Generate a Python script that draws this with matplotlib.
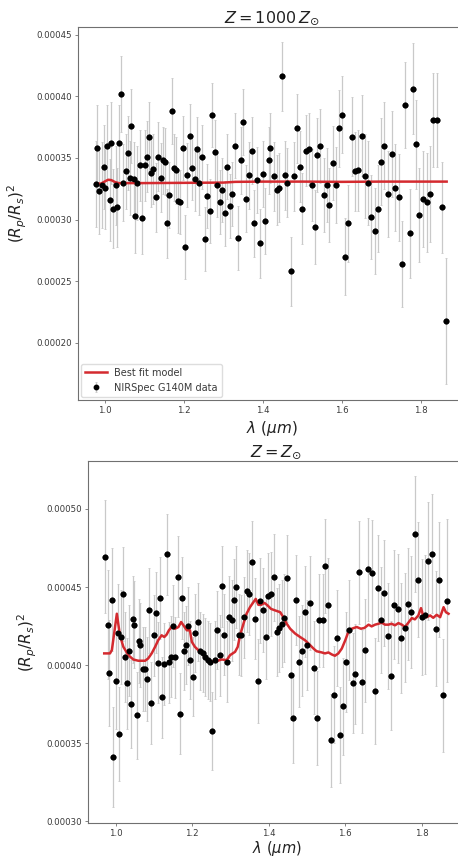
import numpy as np
import matplotlib
matplotlib.use("Agg")
import matplotlib.pyplot as plt

# ---- data: top panel (Z = 1000 Zsun), depths in ppm ----
wl_hi = [0.976, 0.980, 0.986, 0.992, 0.997, 1.001, 1.005, 1.012, 1.016, 1.021,
         1.028, 1.030, 1.036, 1.041, 1.046, 1.052, 1.057, 1.062, 1.067, 1.073,
         1.077, 1.081, 1.088, 1.094, 1.100, 1.106, 1.111, 1.117, 1.122, 1.128,
         1.134, 1.141, 1.147, 1.151, 1.157, 1.162, 1.170, 1.174, 1.179, 1.186,
         1.191, 1.197, 1.203, 1.208, 1.215, 1.221, 1.227, 1.233, 1.239, 1.246,
         1.252, 1.259, 1.265, 1.272, 1.279, 1.284, 1.291, 1.297, 1.304, 1.310,
         1.317, 1.322, 1.329, 1.336, 1.344, 1.350, 1.357, 1.364, 1.371, 1.377,
         1.385, 1.392, 1.399, 1.406, 1.414, 1.419, 1.427, 1.435, 1.441, 1.447,
         1.455, 1.462, 1.470, 1.478, 1.485, 1.493, 1.500, 1.508, 1.516, 1.523,
         1.531, 1.538, 1.544, 1.554, 1.561, 1.568, 1.576, 1.584, 1.593, 1.601,
         1.608, 1.616, 1.625, 1.634, 1.641, 1.650, 1.659, 1.666, 1.674, 1.683,
         1.690, 1.699, 1.707, 1.717, 1.726, 1.735, 1.744, 1.752, 1.760, 1.771,
         1.779, 1.787, 1.796, 1.805, 1.814, 1.823, 1.831, 1.841, 1.852, 1.863]
depth_hi = [329, 358, 323, 328, 343, 326, 360, 316, 362, 309,
            328, 310, 362, 402, 330, 339, 354, 334, 376, 333,
            303, 330, 344, 301, 344, 351, 367, 338, 341, 318,
            351, 334, 348, 347, 297, 320, 388, 342, 340, 315,
            314, 358, 278, 336, 368, 342, 333, 357, 330, 351,
            284, 319, 307, 385, 355, 328, 314, 324, 305, 343,
            311, 321, 360, 285, 348, 379, 317, 336, 356, 297,
            332, 281, 337, 299, 348, 358, 335, 324, 326, 416,
            336, 330, 258, 335, 374, 343, 309, 356, 357, 328,
            294, 352, 360, 320, 328, 312, 346, 328, 374, 385,
            270, 297, 367, 339, 340, 368, 335, 330, 302, 291,
            309, 347, 360, 321, 353, 326, 318, 264, 393, 289,
            406, 361, 304, 317, 314, 321, 381, 381, 310, 218]
err_hi = [35, 35, 35, 35, 34, 34, 33, 33, 33, 32,
          32, 32, 31, 31, 31, 30, 30, 30, 30, 30,
          30, 30, 29, 29, 29, 29, 28, 28, 28, 28,
          28, 28, 27, 27, 28, 27, 27, 27, 27, 26,
          26, 26, 26, 26, 26, 26, 26, 26, 26, 26,
          26, 26, 26, 26, 26, 26, 26, 26, 26, 26,
          26, 26, 26, 26, 27, 27, 27, 27, 27, 27,
          27, 28, 27, 27, 27, 28, 28, 28, 28, 28,
          28, 28, 28, 28, 28, 29, 29, 29, 29, 29,
          30, 30, 30, 30, 30, 30, 30, 31, 31, 31,
          31, 31, 32, 32, 33, 33, 34, 34, 34, 35,
          35, 35, 35, 35, 35, 35, 35, 35, 35, 36,
          37, 36, 38, 39, 40, 39, 38, 38, 37, 51]
model_wl_hi = [0.976, 0.990, 1.000, 1.008, 1.016, 1.025, 1.035, 1.050, 1.100,
               1.200, 1.300, 1.330, 1.400, 1.500, 1.600, 1.700, 1.800, 1.865]
model_hi = [329.0, 329.2, 331.0, 332.3, 332.0, 330.5, 329.5, 329.6, 329.6,
            329.8, 330.0, 330.6, 330.8, 330.8, 330.6, 330.8, 330.8, 330.8]

# ---- data: bottom panel (Z = Zsun) ----
wl_sol = [0.972, 0.979, 0.983, 0.990, 0.994, 1.000, 1.005, 1.009, 1.014, 1.019,
          1.024, 1.030, 1.034, 1.040, 1.044, 1.049, 1.056, 1.060, 1.064, 1.071,
          1.076, 1.081, 1.087, 1.092, 1.099, 1.105, 1.110, 1.116, 1.122, 1.127,
          1.133, 1.139, 1.145, 1.150, 1.155, 1.162, 1.168, 1.173, 1.179, 1.185,
          1.189, 1.194, 1.202, 1.208, 1.214, 1.221, 1.227, 1.233, 1.240, 1.246,
          1.253, 1.259, 1.265, 1.272, 1.278, 1.284, 1.290, 1.297, 1.303, 1.309,
          1.315, 1.323, 1.328, 1.336, 1.343, 1.349, 1.357, 1.364, 1.371, 1.378,
          1.385, 1.393, 1.399, 1.406, 1.413, 1.421, 1.427, 1.434, 1.440, 1.449,
          1.457, 1.463, 1.471, 1.479, 1.486, 1.494, 1.501, 1.509, 1.518, 1.525,
          1.532, 1.541, 1.548, 1.555, 1.563, 1.570, 1.578, 1.586, 1.594, 1.602,
          1.611, 1.619, 1.626, 1.635, 1.644, 1.652, 1.660, 1.669, 1.677, 1.686,
          1.694, 1.702, 1.711, 1.720, 1.728, 1.737, 1.746, 1.755, 1.763, 1.773,
          1.782, 1.791, 1.800, 1.809, 1.817, 1.827, 1.836, 1.845, 1.855, 1.867]
depth_sol = [469.5, 425.9, 395.2, 442.0, 341.2, 389.9, 420.8, 356.0, 418.1, 445.6,
             405.1, 388.4, 409.2, 375.1, 429.3, 425.9, 367.9, 415.3, 412.8, 397.3,
             397.3, 391.0, 435.0, 375.7, 419.1, 433.5, 401.6, 443.0, 379.5, 400.7,
             471.0, 401.8, 405.4, 425.1, 405.1, 456.6, 368.8, 443.0, 409.2, 412.8,
             424.8, 403.2, 392.7, 420.6, 427.6, 408.9, 407.5, 405.4, 403.2, 401.8,
             357.8, 403.2, 422.7, 406.4, 450.5, 419.5, 402.2, 430.8, 428.6, 441.8,
             450.0, 419.5, 419.1, 430.5, 447.5, 445.6, 466.1, 429.7, 389.9, 441.3,
             435.4, 418.1, 444.5, 445.6, 456.2, 421.3, 423.8, 426.5, 430.2, 455.6,
             393.7, 366.2, 441.8, 402.2, 409.2, 434.3, 412.8, 439.7, 398.4, 366.2,
             428.6, 428.6, 463.6, 438.6, 351.8, 381.0, 417.4, 355.2, 373.6, 401.8,
             422.7, 388.4, 394.3, 459.4, 389.5, 409.6, 461.5, 458.9, 383.5, 449.2,
             429.1, 446.2, 418.5, 393.3, 438.6, 436.1, 417.4, 424.0, 439.2, 434.0,
             484.1, 454.7, 430.8, 432.2, 466.7, 471.4, 423.4, 454.7, 380.6, 441.3]
err_sol = [36, 35, 34, 33, 32, 31, 31, 30, 30, 30,
           29, 29, 29, 28, 28, 28, 28, 27, 27, 27,
           27, 27, 27, 26, 26, 26, 26, 26, 26, 26,
           26, 26, 26, 26, 26, 26, 26, 26, 25, 25,
           25, 25, 25, 25, 25, 25, 25, 25, 25, 25,
           25, 25, 25, 26, 26, 26, 26, 26, 26, 26,
           26, 26, 26, 26, 26, 26, 26, 26, 27, 27,
           27, 27, 27, 27, 28, 28, 28, 28, 28, 28,
           29, 29, 29, 29, 29, 29, 29, 30, 30, 30,
           30, 30, 30, 30, 30, 31, 31, 31, 31, 32,
           32, 32, 32, 33, 33, 33, 33, 34, 34, 34,
           34, 34, 34, 35, 35, 35, 35, 35, 36, 36,
           37, 37, 37, 38, 38, 38, 37, 37, 36, 52]
model_wl_sol = [0.970, 0.985, 0.990, 1.003, 1.011, 1.020, 1.033, 1.046, 1.059, 1.077,
                1.085, 1.094, 1.103, 1.111, 1.120, 1.127, 1.133, 1.139, 1.146, 1.155,
                1.164, 1.171, 1.177, 1.186, 1.194, 1.199, 1.207, 1.216, 1.225, 1.233,
                1.242, 1.251, 1.264, 1.277, 1.290, 1.299, 1.312, 1.319, 1.325, 1.334,
                1.342, 1.351, 1.360, 1.366, 1.373, 1.380, 1.389, 1.397, 1.406, 1.417,
                1.430, 1.438, 1.447, 1.456, 1.469, 1.482, 1.495, 1.504, 1.517, 1.525,
                1.539, 1.547, 1.556, 1.565, 1.573, 1.582, 1.591, 1.600, 1.608, 1.617,
                1.630, 1.641, 1.650, 1.661, 1.669, 1.678, 1.687, 1.695, 1.704, 1.713,
                1.721, 1.730, 1.739, 1.748, 1.756, 1.765, 1.774, 1.782, 1.791, 1.798,
                1.804, 1.813, 1.822, 1.830, 1.839, 1.848, 1.857, 1.863, 1.870]
model_sol = [407.5, 407.5, 409.6, 432.9, 419.1, 411.7, 406.4, 403.6, 402.8, 402.8,
             404.3, 407.5, 411.7, 415.9, 419.1, 418.0, 419.5, 422.3, 424.4, 423.3,
             424.4, 427.6, 425.5, 422.3, 422.3, 414.9, 411.7, 409.6, 407.9, 405.3,
             403.2, 402.2, 402.6, 403.6, 403.2, 406.4, 408.5, 411.7, 419.1, 426.5,
             432.9, 437.1, 440.3, 442.4, 438.6, 438.6, 439.8, 438.2, 436.0, 435.0,
             433.9, 430.7, 426.5, 423.3, 420.2, 418.0, 415.9, 413.8, 410.6, 408.9,
             408.1, 407.5, 408.1, 406.8, 406.0, 407.5, 410.6, 415.9, 421.2, 423.3,
             424.4, 423.3, 423.8, 425.9, 424.8, 425.9, 426.5, 427.2, 425.9, 425.9,
             426.5, 425.5, 426.9, 425.9, 424.4, 427.2, 430.1, 429.3, 431.8, 436.5,
             431.4, 430.7, 431.8, 430.3, 432.2, 430.7, 437.1, 433.9, 432.9]

RED = '#d42a2f'
BAR = '#c9c9c9'
SPINE = '#707070'
TXT = '#3a3a3a'


def panel(ax, wl, depth, err, mwl, mdepth, title, yticks, xlim, ylim, xpad, xfs):
    d = np.array(depth) / 1e6
    e = np.array(err) / 1e6
    eb = ax.errorbar(wl, d, yerr=e, fmt='o', color='black', ms=3.2,
                     ecolor=BAR, elinewidth=0.9, capsize=0.8, capthick=0.6,
                     zorder=1, label='NIRSpec G140M data')
    ln, = ax.plot(mwl, np.array(mdepth) / 1e6, color=RED, lw=1.8,
                  zorder=2, label='Best fit model')
    ax.plot(wl, d, 'o', color='black', ms=3.2, zorder=3)
    ax.set_xlim(*xlim)
    ax.set_ylim(*ylim)
    ax.set_xticks([1.0, 1.2, 1.4, 1.6, 1.8])
    ax.set_yticks(yticks)
    ax.yaxis.set_major_formatter(matplotlib.ticker.FormatStrFormatter('%.5f'))
    ax.tick_params(labelsize=6.2, length=2.5, width=0.6, pad=2,
                   colors=SPINE, labelcolor=TXT)
    for s in ax.spines.values():
        s.set_color(SPINE)
        s.set_linewidth(0.8)
    ax.set_title(title, fontsize=11.5, pad=2, color='#222222')
    ax.set_xlabel(r'$\lambda\ (\mu m)$', fontsize=xfs, labelpad=xpad, color='#222222')
    ax.set_ylabel(r'$(R_p/R_s)^2$', fontsize=11, labelpad=5, color='#222222')
    return ln, eb


fig = plt.figure(figsize=(4.58, 8.58), dpi=100)

ax1 = fig.add_axes([78 / 458, 1 - 400 / 858, 388 / 458, 373 / 858])
ln, eb = panel(ax1, wl_hi, depth_hi, err_hi, model_wl_hi, model_hi,
               r'$Z = 1000\,Z_{\odot}$',
               [0.00020, 0.00025, 0.00030, 0.00035, 0.00040, 0.00045],
               (0.9316, 1.914), (0.0001538, 0.0004561), 3, 11)
leg = ax1.legend([ln, eb], ['Best fit model', 'NIRSpec G140M data'],
                 loc='lower left', fontsize=7, borderaxespad=0.35,
                 handlelength=2.2, framealpha=1, edgecolor='#dddddd')
for t in leg.get_texts():
    t.set_color(TXT)

ax2 = fig.add_axes([88 / 458, 1 - 823 / 858, 377 / 458, 362 / 858])
panel(ax2, wl_sol, depth_sol, err_sol, model_wl_sol, model_sol,
      r'$Z = Z_{\odot}$',
      [0.00030, 0.00035, 0.00040, 0.00045, 0.00050],
      (0.9276, 1.913), (0.0002989, 0.0005307), 0.5, 10.5)

fig.savefig('out.png', dpi=100)
